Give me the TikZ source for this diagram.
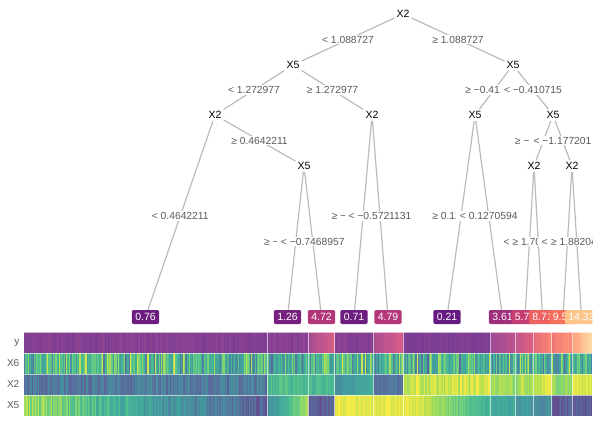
\documentclass[tikz,border=0pt]{standalone}
\usepackage{fontspec}
\setmainfont{Liberation Sans}
\usetikzlibrary{calc}
\definecolor{v0}{HTML}{440154}
\definecolor{v1}{HTML}{472D7B}
\definecolor{v2}{HTML}{3B528B}
\definecolor{v3}{HTML}{2C728E}
\definecolor{v4}{HTML}{21918C}
\definecolor{v5}{HTML}{28AE80}
\definecolor{v6}{HTML}{5EC962}
\definecolor{v7}{HTML}{ADDC30}
\definecolor{v8}{HTML}{FDE725}
\definecolor{v9}{HTML}{FDE725}
\definecolor{v10}{HTML}{FDE725}
\definecolor{v11}{HTML}{FDE725}
\definecolor{m0}{HTML}{000004}
\definecolor{m1}{HTML}{140E36}
\definecolor{m2}{HTML}{3B0F70}
\definecolor{m3}{HTML}{641A80}
\definecolor{m4}{HTML}{8C2981}
\definecolor{m5}{HTML}{B73779}
\definecolor{m6}{HTML}{DE4968}
\definecolor{m7}{HTML}{F7705C}
\definecolor{m8}{HTML}{FE9F6D}
\definecolor{m9}{HTML}{FECF92}
\definecolor{m10}{HTML}{FCFDBF}
\definecolor{m11}{HTML}{FCFDBF}
\definecolor{edgegray}{HTML}{BBBBBB}
\definecolor{labgray}{HTML}{5A5A5A}
\colorlet{lc1}{m4!23!m3}
\colorlet{lc2}{m4!45!m3}
\colorlet{lc3}{m5!92!m4}
\colorlet{lc4}{m4!21!m3}
\colorlet{lc5}{m5!95!m4}
\colorlet{lc6}{m3}
\colorlet{lc7}{m5!45!m4}
\colorlet{lc8}{m6!34!m5}
\colorlet{lc9}{m7!61!m6}
\colorlet{lc10}{m7!96!m6}
\colorlet{lc11}{m9!80!m8}
\newcommand\hmsetcol[2]{%
  \pgfmathtruncatemacro\hvi{#2}%
  \pgfmathtruncatemacro\hvf{round((#2-\hvi)*100)}%
  \pgfmathtruncatemacro\hvj{\hvi+1}%
  \colorlet{cur}{#1\hvj!\hvf!#1\hvi}%
  \colorlet{cur}{cur!85!white}}
% x0 x1 ytop palette lo hi noise(-1 = uniform random, -2 = centred random)
\newcommand\hseg[7]{%
  \pgfmathtruncatemacro\hn{max(1,round((#2-#1)/1.2))}%
  \pgfmathsetmacro\hw{(#2-#1)/\hn}%
  \foreach \k in {1,...,\hn}{%
    \pgfmathsetmacro\hxa{#1+(\k-1)*\hw}%
    \pgfmathsetmacro\hxb{#1+\k*\hw+0.25}%
    \ifdim #7pt<-1.5pt
      \pgfmathsetmacro\hv{#5+(#6-#5)*(rnd+rnd+rnd)/3}%
    \else\ifdim #7pt<0pt
      \pgfmathsetmacro\hv{#5+(#6-#5)*rnd}%
    \else
      \pgfmathsetmacro\hv{#5+(#6-#5)*(\k/\hn)+(rnd-0.5)*#7}%
    \fi\fi
    \pgfmathsetmacro\hv{max(0,min(\hv,9.99))}%
    \hmsetcol{#4}{\hv}%
    \fill[cur] (\hxa,#3) rectangle (\hxb,{#3+21});
  }}
\tikzset{
  edge/.style={draw=edgegray, line width=1.2pt},
  inode/.style={font=\fontsize{10.5}{12}\selectfont, text=black, inner sep=2pt},
  elab/.style={fill=white, inner xsep=3.6pt, inner ysep=1pt, font=\fontsize{10.3}{12}\selectfont, text=labgray},
  leaf/.style={rounded corners=2pt, text=white, font=\fontsize{10.5}{12}\selectfont, inner xsep=3.5pt, inner ysep=0pt, minimum height=14pt, text height=7.6pt, text depth=0pt},
  rowlab/.style={anchor=east, inner sep=0pt, font=\fontsize{10}{12}\selectfont, text=labgray},
  sep/.style={draw=white, draw opacity=0.6, line width=0.9pt}
}
\begin{document}
\begin{tikzpicture}[x=1pt,y=-1pt]
\useasboundingbox (0,0) rectangle (598,426);
\pgfmathsetseed{4321}
% ---------- heatmap ----------
% row y (magma)
\hseg{24.3}{267}{332}{m}{3.0}{3.6}{-1}
\hseg{267}{308.3}{332}{m}{3.1}{3.8}{-1}
\hseg{308.3}{334.7}{332}{m}{4.2}{5.6}{0.3}
\hseg{334.7}{373.3}{332}{m}{2.9}{3.6}{-1}
\hseg{373.3}{403.3}{332}{m}{4.3}{5.6}{0.3}
\hseg{403.3}{490.7}{332}{m}{2.9}{3.3}{-1}
\hseg{490.7}{515.7}{332}{m}{4.0}{4.9}{0.3}
\hseg{515.7}{533.7}{332}{m}{5.0}{5.7}{0.3}
\hseg{533.7}{551.7}{332}{m}{6.2}{7.0}{0.3}
\hseg{551.7}{572.7}{332}{m}{6.6}{7.3}{0.4}
\hseg{572.7}{591.7}{332}{m}{7.6}{9.2}{0.3}
% row X6
\hseg{24.3}{591.7}{353}{v}{1.2}{8.4}{-2}
% row X2
\hseg{24.3}{267}{374}{v}{1.6}{3.4}{-1}
\hseg{267}{308.3}{374}{v}{4.6}{5.6}{-1}
\hseg{308.3}{334.7}{374}{v}{4.4}{5.4}{-1}
\hseg{334.7}{373.3}{374}{v}{3.2}{4.6}{0.6}
\hseg{373.3}{403.3}{374}{v}{1.9}{2.9}{-1}
\hseg{403.3}{490.7}{374}{v}{6.6}{8.0}{-1}
\hseg{490.7}{515.7}{374}{v}{6.0}{7.2}{-1}
\hseg{515.7}{533.7}{374}{v}{6.0}{7.4}{-1}
\hseg{533.7}{551.7}{374}{v}{6.6}{8.0}{0.6}
\hseg{551.7}{572.7}{374}{v}{6.0}{6.9}{-1}
\hseg{572.7}{591.7}{374}{v}{7.0}{8.0}{-1}
% row X5
\hseg{24.3}{267}{395}{v}{6.6}{1.6}{1.6}
\hseg{267}{308.3}{395}{v}{3.0}{6.8}{0.6}
\hseg{308.3}{334.7}{395}{v}{0.9}{2.3}{-1}
\hseg{334.7}{373.3}{395}{v}{7.3}{8.0}{-1}
\hseg{373.3}{403.3}{395}{v}{7.3}{8.0}{-1}
\hseg{403.3}{490.7}{395}{v}{7.9}{4.6}{0.8}
\hseg{490.7}{515.7}{395}{v}{4.0}{4.6}{-1}
\hseg{515.7}{533.7}{395}{v}{3.4}{4.2}{-1}
\hseg{533.7}{551.7}{395}{v}{2.8}{3.6}{-1}
\hseg{551.7}{572.7}{395}{v}{1.0}{2.1}{-1}
\hseg{572.7}{591.7}{395}{v}{1.0}{2.2}{-1}
% separators
\foreach \yy in {332,353,374,395,416}{\draw[sep] (24.3,\yy) -- (591.7,\yy);}
\foreach \xx in {267,308.3,334.7,373.3,403.3,490.7,515.7,533.7,551.7,572.7}{\draw[sep] (\xx,332) -- (\xx,416);}
% row labels
\node[rowlab] (ry) at (19.5,342.5) {y};
\node[rowlab] (rx6) at (19.5,363.5) {X6};
\node[rowlab] (rx2) at (19.5,384.5) {X2};
\node[rowlab] (rx5) at (19.5,405.5) {X5};
% ---------- tree ----------
\begin{scope}
\clip (0,0) rectangle (592.3,330);
\node[inode] (n0) at (403,14) {X2};
\node[inode] (n1) at (293,65) {X5};
\node[inode] (n2) at (513,65) {X5};
\node[inode] (n3) at (215,115) {X2};
\node[inode] (n4) at (372,115) {X2};
\node[inode] (n5) at (475,115) {X5};
\node[inode] (n6) at (553,115) {X5};
\node[inode] (n7) at (304,166) {X5};
\node[inode] (n8) at (534,166) {X2};
\node[inode] (n9) at (572,166) {X2};
\coordinate (c1) at (145.5,317);
\coordinate (c2) at (287.5,317);
\coordinate (c3) at (321.5,317);
\coordinate (c4) at (354,317);
\coordinate (c5) at (388,317);
\coordinate (c6) at (447,317);
\coordinate (c7) at (502.5,317);
\coordinate (c8) at (525,317);
\coordinate (c9) at (542.5,317);
\coordinate (c10) at (563,317);
\coordinate (c11) at (581.5,317);
% edges
\draw[edge] (n0) -- (n1);
\draw[edge] (n0) -- (n2);
\draw[edge] (n1) -- (n3);
\draw[edge] (n1) -- (n4);
\draw[edge] (n2) -- (n5);
\draw[edge] (n2) -- (n6);
\draw[edge] (n3) -- (c1);
\draw[edge] (n3) -- (n7);
\draw[edge] (n7) -- (c2);
\draw[edge] (n7) -- (c3);
\draw[edge] (n4) -- (c4);
\draw[edge] (n4) -- (c5);
\draw[edge] (n5) -- (c6);
\draw[edge] (n5) -- (c7);
\draw[edge] (n6) -- (n8);
\draw[edge] (n6) -- (n9);
\draw[edge] (n8) -- (c8);
\draw[edge] (n8) -- (c9);
\draw[edge] (n9) -- (c10);
\draw[edge] (n9) -- (c11);
% edge labels
\node[elab] (e01) at ($(n0)!0.5!(n1)$) {< 1.088727};
\node[elab] (e02) at ($(n0)!0.5!(n2)$) {≥ 1.088727};
\node[elab] (e13) at ($(n1)!0.5!(n3)$) {< 1.272977};
\node[elab] (e14) at ($(n1)!0.5!(n4)$) {≥ 1.272977};
\node[elab] (e25) at ($(n2)!0.5!(n5)$) {≥ −0.410715};
\node[elab] (e26) at ($(n2)!0.5!(n6)$) {< −0.410715};
\node[elab] (e31) at ($(n3)!0.5!(c1)$) {< 0.4642211};
\node[elab] (e37) at ($(n3)!0.5!(n7)$) {≥ 0.4642211};
\node[elab] (e72) at ($(n7)!0.5!(c2)$) {≥ −0.7468957};
\node[elab] (e73) at ($(n7)!0.5!(c3)$) {< −0.7468957};
\node[elab] (e44) at ($(n4)!0.5!(c4)$) {≥ −0.5721131};
\node[elab] (e45) at ($(n4)!0.5!(c5)$) {< −0.5721131};
\node[elab] (e56) at ($(n5)!0.5!(c6)$) {≥ 0.1270594};
\node[elab] (e57) at ($(n5)!0.5!(c7)$) {< 0.1270594};
\node[elab] (e68) at ($(n6)!0.5!(n8)$) {≥ −1.177201};
\node[elab] (e69) at ($(n6)!0.5!(n9)$) {< −1.177201};
\node[elab] (e88) at ($(n8)!0.5!(c8)$) {< 1.704512};
\node[elab] (e89) at ($(n8)!0.5!(c9)$) {≥ 1.704512};
\node[elab] (e910) at ($(n9)!0.5!(c10)$) {< 1.882046};
\node[elab] (e911) at ($(n9)!0.5!(c11)$) {≥ 1.882046};
% leaves
\node[leaf, fill=lc1] (l1) at (c1) {0.76};
\node[leaf, fill=lc2] (l2) at (c2) {1.26};
\node[leaf, fill=lc3] (l3) at (c3) {4.72};
\node[leaf, fill=lc4] (l4) at (c4) {0.71};
\node[leaf, fill=lc5] (l5) at (c5) {4.79};
\node[leaf, fill=lc6] (l6) at (c6) {0.21};
\node[leaf, fill=lc7] (l7) at (c7) {3.61};
\node[leaf, fill=lc8] (l8) at (c8) {5.74};
\node[leaf, fill=lc9] (l9) at (c9) {8.71};
\node[leaf, fill=lc10] (l10) at (c10) {9.53};
\node[leaf, fill=lc11] (l11) at (c11) {14.33};
\end{scope}
\end{tikzpicture}
\end{document}
